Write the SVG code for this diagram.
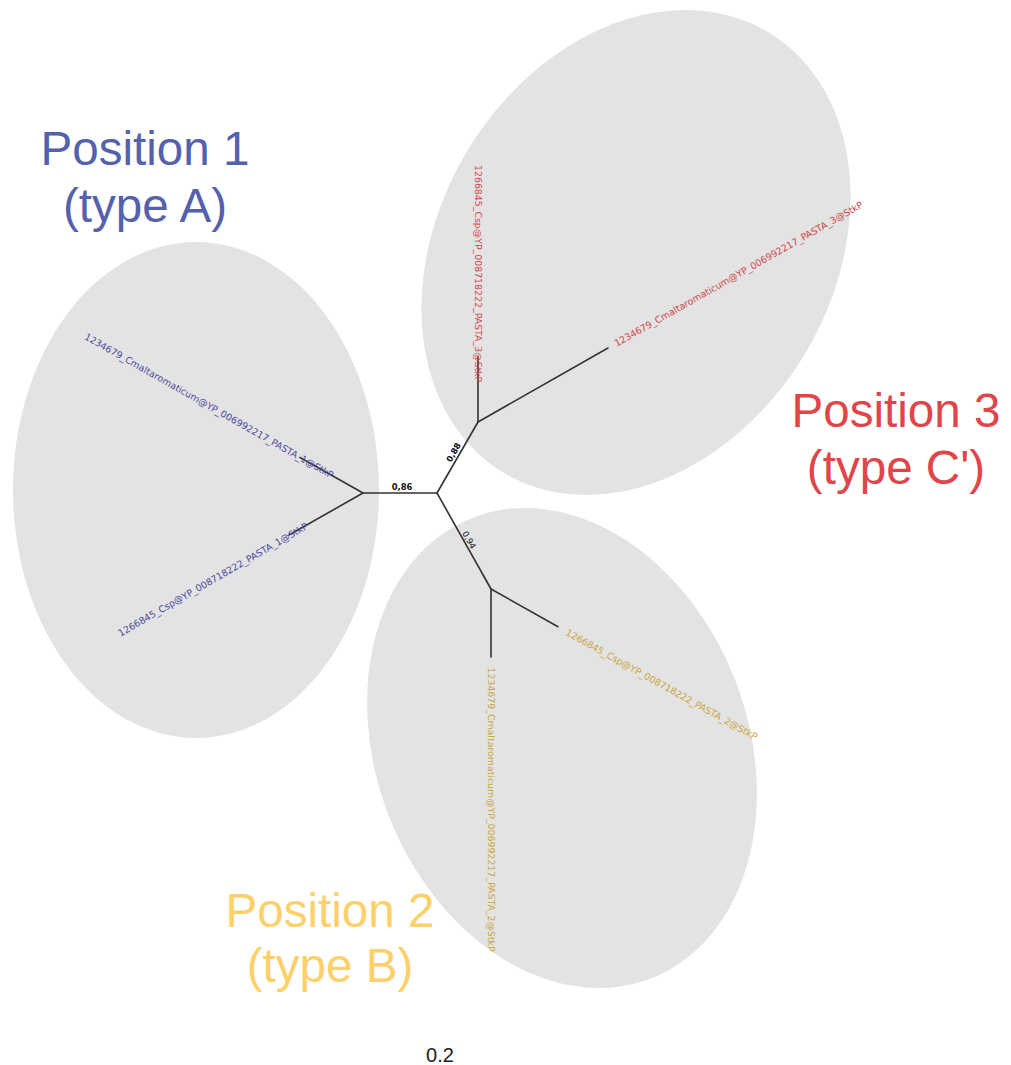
<svg xmlns="http://www.w3.org/2000/svg" width="1011" height="1065" viewBox="0 0 1011 1065">
<style>
.cl{fill:#e3e3e3;stroke:none}
.br{stroke:#333;stroke-width:1.6;fill:none;stroke-linecap:round}
.lf{font-family:"DejaVu Sans",Verdana,sans-serif;font-size:9.4px}
.sp{font-family:"DejaVu Sans",Verdana,sans-serif;font-size:8.4px;fill:#111}
.tt{font-family:"Liberation Sans",Arial,sans-serif;font-size:47.6px;text-anchor:middle}
.b{fill:#4b48a0}.r{fill:#cf4648}.y{fill:#c9a53a}
</style>
<rect width="1011" height="1065" fill="#fff"/>
<g id="cluster-position1">
<ellipse class="cl" cx="196" cy="490" rx="183" ry="248"/>
<text class="tt" fill="#5561ad"><tspan x="145" y="165">Position 1</tspan><tspan x="145" y="222">(type A)</tspan></text>
</g>
<g id="cluster-position3">
<ellipse class="cl" cx="636" cy="252.5" rx="197" ry="257" transform="rotate(31 636 252.5)"/>
<text class="tt" fill="#e0454a"><tspan x="896" y="427">Position 3</tspan><tspan x="896" y="484">(type C')</tspan></text>
</g>
<g id="cluster-position2">
<ellipse class="cl" cx="562" cy="748" rx="186" ry="247" transform="rotate(-21 562 748)"/>
<text class="tt" fill="#fdd06a"><tspan x="330" y="927">Position 2</tspan><tspan x="330" y="982">(type B)</tspan></text>
</g>
<g id="connectors">
<line class="br" x1="363" y1="493" x2="437" y2="493"/>
<line class="br" x1="437" y1="493" x2="478" y2="422"/>
<line class="br" x1="437" y1="493" x2="491" y2="589"/>
<line class="br" x1="363" y1="493" x2="300" y2="457.5"/>
<line class="br" x1="363" y1="493" x2="289" y2="535"/>
<line class="br" x1="478" y1="422" x2="478" y2="357"/>
<line class="br" x1="478" y1="422" x2="608" y2="348"/>
<line class="br" x1="491" y1="589" x2="491" y2="657"/>
<line class="br" x1="491" y1="589" x2="558" y2="626.7"/>
<text class="sp" x="402" y="490" text-anchor="middle" font-weight="bold">0,86</text>
<text class="sp" transform="translate(437 493) rotate(-60)" x="43.4" y="-3" text-anchor="middle" font-weight="bold">0,88</text>
<text class="sp" transform="translate(437 493) rotate(60.6)" x="56.7" y="-2" text-anchor="middle">0,94</text>
</g>
<g id="leaf-cmalt-1">
<text class="lf b" transform="translate(332.6 475.7) rotate(29.5)" text-anchor="end" dy="0.35em">1234679_Cmaltaromaticum@YP_006992217_PASTA_1@StkP</text>
</g>
<g id="leaf-csp-1">
<text class="lf b" transform="translate(307 525.3) rotate(-30)" text-anchor="end" dy="0.35em">1266845_Csp@YP_008718222_PASTA_1@StkP</text>
</g>
<g id="leaf-csp-3">
<text class="lf r" transform="translate(478 165) rotate(90)" dy="0.35em">1266845_Csp@YP_008718222_PASTA_3@StkP</text>
</g>
<g id="leaf-cmalt-3">
<text class="lf r" transform="translate(615 344) rotate(-29.55)" dy="0.35em">1234679_Cmaltaromaticum@YP_006992217_PASTA_3@StkP</text>
</g>
<g id="leaf-csp-2">
<text class="lf y" transform="translate(566.7 631.7) rotate(29.1)" dy="0.35em">1266845_Csp@YP_008718222_PASTA_2@StkP</text>
</g>
<g id="leaf-cmalt-2">
<text class="lf y" transform="translate(491.5 667.5) rotate(90)" dy="0.35em">1234679_Cmaltaromaticum@YP_006992217_PASTA_2@StkP</text>
</g>
<g id="scale">
<text x="440" y="1062" text-anchor="middle" font-family="Liberation Sans, Arial, sans-serif" font-size="20" fill="#222">0.2</text>
</g>
</svg>
